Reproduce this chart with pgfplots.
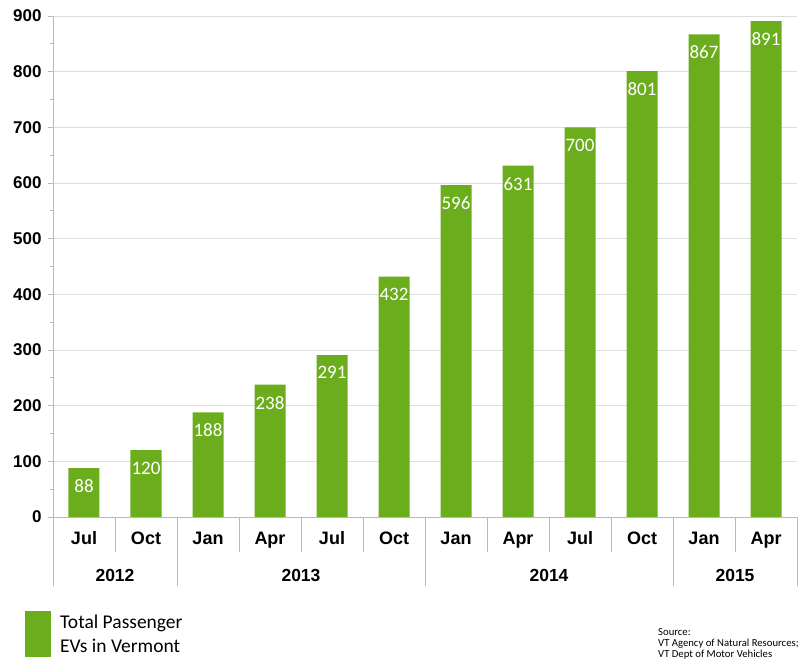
\documentclass[border=0pt]{standalone}
\usepackage{fontspec}
\setmainfont{Carlito}
\newfontfamily\arial{Liberation Sans}
\usepackage{pgfplots}
\pgfplotsset{compat=1.18}
\usetikzlibrary{calc}
\definecolor{evgreen}{RGB}{108,173,30}
\definecolor{gridc}{RGB}{222,222,222}
\definecolor{axc}{RGB}{185,185,185}
\begin{document}
\begin{tikzpicture}
\begin{axis}[
  name=ax,
  scale only axis, width=744bp, height=501bp,
  xmin=-0.5, xmax=11.5, ymin=0, ymax=900,
  axis x line*=bottom, axis y line*=left,
  axis line style={draw=axc, line width=0.8bp},
  ybar, bar width=31bp,
  xtick={0,...,11},
  xticklabels={Jul,Oct,Jan,Apr,Jul,Oct,Jan,Apr,Jul,Oct,Jan,Apr},
  major x tick style={draw=none},
  x tick label style={font=\arial\bfseries\fontsize{18bp}{20bp}\selectfont, anchor=base, yshift=-23bp, inner sep=0pt},
  ytick={0,100,...,900},
  minor y tick num=1,
  tick align=outside,
  major tick length=5bp, minor tick length=3bp,
  y tick style={draw=axc, line width=0.8bp},
  ymajorgrids, grid style={draw=gridc, line width=0.8bp},
  y tick label style={font=\arial\bfseries\fontsize{17bp}{19bp}\selectfont, xshift=-3bp},
  /pgf/number format/assume math mode=true,
  nodes near coords,
  every node near coord/.append style={anchor=north, text=white, font=\fontsize{19bp}{21bp}\selectfont, yshift=-8bp},
]
\addplot[fill=evgreen, draw=none] coordinates {
 (0,88) (1,120) (2,188) (3,238) (4,291) (5,432)
 (6,596) (7,631) (8,700) (9,801) (10,867) (11,891)};
\end{axis}
% category separators
\foreach \k in {1,3,4,5,7,8,9,11} \draw[axc, line width=0.8bp] ($(ax.south west)+(\k*62bp,0)$) -- ++(0,-35bp);
\foreach \k in {0,2,6,10,12} \draw[axc, line width=0.8bp] ($(ax.south west)+(\k*62bp,0)$) -- ++(0,-69bp);
% year labels
\foreach \x/\y in {62/2012, 248/2013, 496/2014, 682/2015}
  \node[font=\arial\bfseries\fontsize{17.5bp}{19bp}\selectfont] at ($(ax.south west)+(\x bp,-58bp)$) {\y};
% legend
\fill[evgreen] ($(ax.south west)+(-28bp,-94bp)$) rectangle ($(ax.south west)+(-2bp,-140bp)$);
\node[anchor=west, font=\fontsize{19.5bp}{23bp}\selectfont, inner sep=0pt] at ($(ax.south west)+(7bp,-106bp)$) {Total Passenger};
\node[anchor=west, font=\fontsize{19.5bp}{23bp}\selectfont, inner sep=0pt] at ($(ax.south west)+(7bp,-129bp)$) {EVs in Vermont};
% source
\node[anchor=north west, align=left, inner sep=0pt, font=\fontsize{10.7bp}{11bp}\selectfont] at ($(ax.south west)+(605bp,-111bp)$) {Source:\\VT Agency of Natural Resources;\\VT Dept of Motor Vehicles};
\path[use as bounding box] ($(ax.south west)+(-53bp,-145bp)$) rectangle ($(ax.north east)+(6bp,16bp)$);
\end{tikzpicture}
\end{document}
